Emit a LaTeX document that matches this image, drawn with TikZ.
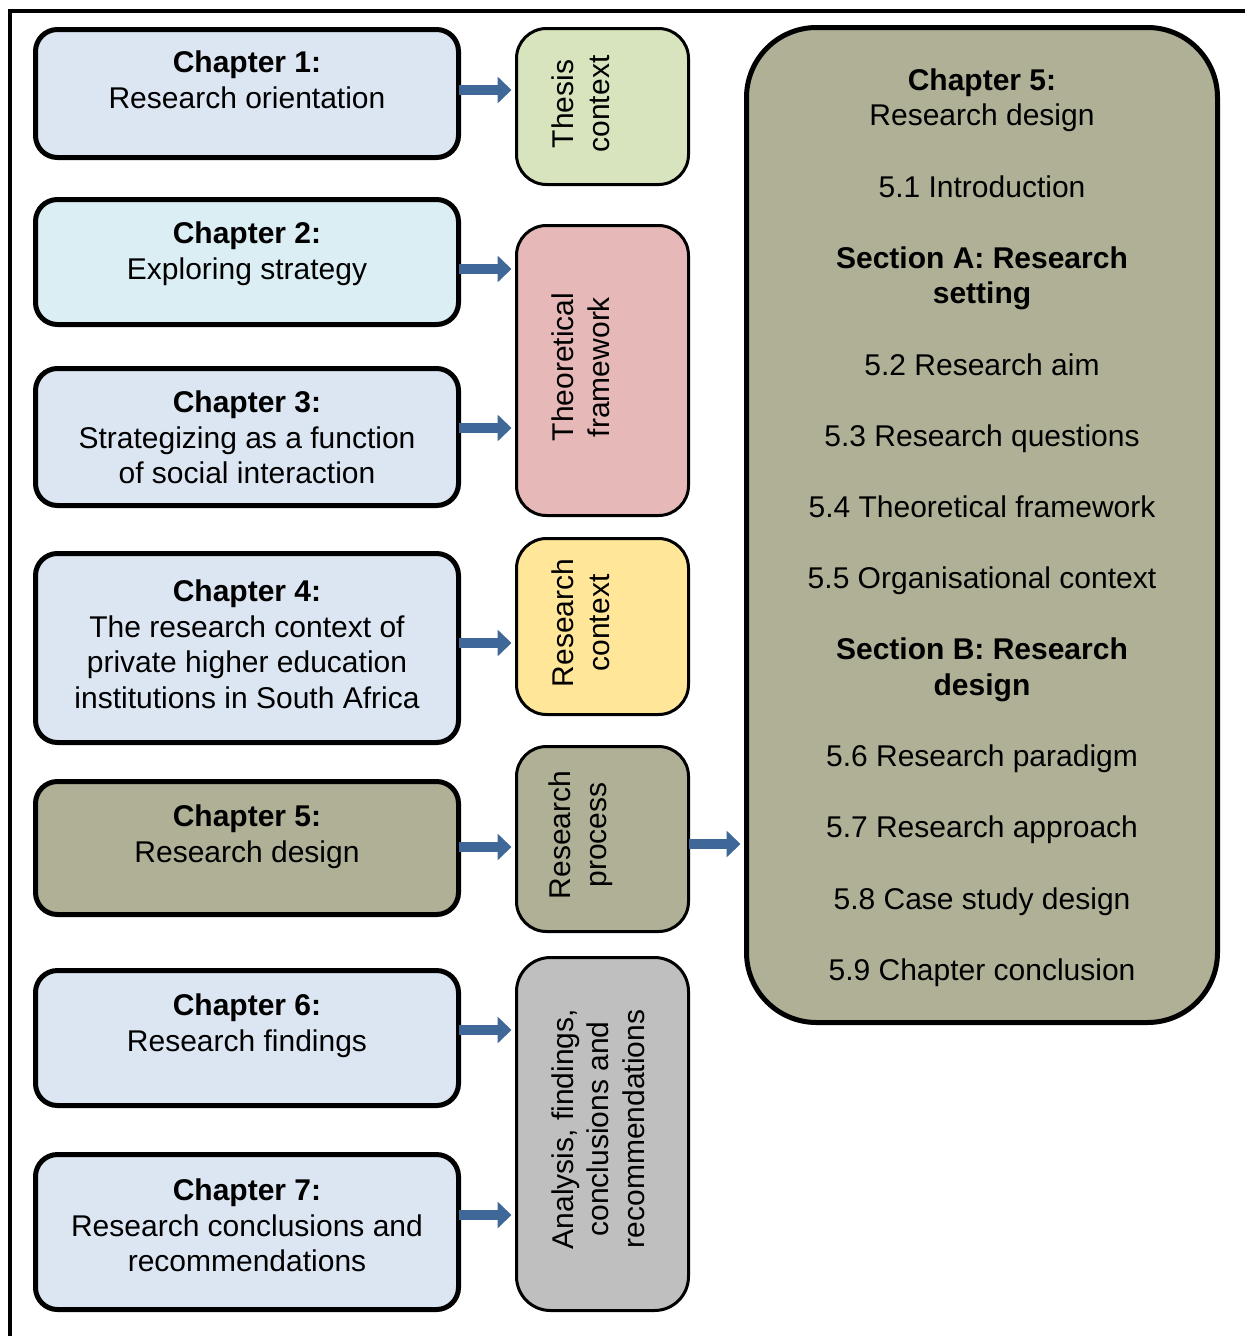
\documentclass[tikz,border=0pt]{standalone}
\usepackage{fontspec}
\setmainfont{Liberation Sans}
\usetikzlibrary{arrows.meta,calc}

\definecolor{chblue}{HTML}{DCE6F2}
\definecolor{chaqua}{HTML}{DBEEF4}
\definecolor{olivebox}{HTML}{AFB096}
\definecolor{thesisgreen}{HTML}{D7E4BD}
\definecolor{theopink}{HTML}{E6B9B8}
\definecolor{ctxyellow}{HTML}{FFE699}
\definecolor{anagray}{HTML}{BFBFBF}
\definecolor{arrowblue}{HTML}{3F6798}

\newcommand{\txt}{\fontsize{30}{35.6}\selectfont}

\begin{document}
\begin{tikzpicture}[x=1pt,y=-1pt,
  chbox/.style={draw=black, line width=5pt, rounded corners=22pt, fill=chblue,
    minimum width=423pt, outer sep=0pt, inner sep=0pt},
  midbox/.style={draw=black, line width=3pt, rounded corners=30pt,
    minimum width=172pt, outer sep=0pt, inner sep=0pt},
  chtext/.style={anchor=north, inner sep=0pt, align=center, font=\txt},
  sidetext/.style={rotate=90, inner sep=0pt, align=center, font=\txt},
  arr/.style={draw=arrowblue, line width=10pt,
    -{Triangle[width=26pt,length=14pt]}, shorten >=5pt}]

\useasboundingbox (0,0) rectangle (1245,1336);
\fill[white] (0,0) rectangle (1245,1336);

% outer frame (top and left edges)
\draw[line width=4pt] (1245,11) -- (10,11) -- (10,1336);

% chapter boxes
\node[chbox, minimum height=128pt] (c1) at (247,93.5) {};
\node[chbox, minimum height=125pt, fill=chaqua] (c2) at (247,262) {};
\node[chbox, minimum height=137pt] (c3) at (247,437) {};
\node[chbox, minimum height=189pt] (c4) at (247,648) {};
\node[chbox, minimum height=133pt, fill=olivebox] (c5) at (247,848) {};
\node[chbox, minimum height=135pt] (c6) at (247,1038) {};
\node[chbox, minimum height=155pt] (c7) at (247,1232) {};

\node[chtext] (t1) at ([yshift=-18pt]c1.north) {\strut\textbf{Chapter 1:}\\Research orientation};
\node[chtext] (t2) at ([yshift=-19pt]c2.north) {\strut\textbf{Chapter 2:}\\Exploring strategy};
\node[chtext] (t3) at ([yshift=-19pt]c3.north) {\strut\textbf{Chapter 3:}\\Strategizing as a function\\of social interaction};
\node[chtext] (t4) at ([yshift=-23pt]c4.north) {\strut\textbf{Chapter 4:}\\The research context of\\private higher education\\institutions in South Africa};
\node[chtext] (t5) at ([yshift=-20pt]c5.north) {\strut\textbf{Chapter 5:}\\Research design};
\node[chtext] (t6) at ([yshift=-20pt]c6.north) {\strut\textbf{Chapter 6:}\\Research findings};
\node[chtext] (t7) at ([yshift=-21pt]c7.north) {\strut\textbf{Chapter 7:}\\Research conclusions and\\recommendations};

% grouping boxes
\node[midbox, minimum height=156pt, fill=thesisgreen] (thesis) at (602.5,106.5) {};
\node[midbox, minimum height=290pt, fill=theopink] (theo) at (602.5,370.5) {};
\node[midbox, minimum height=176pt, fill=ctxyellow] (rctx) at (602.5,626.5) {};
\node[midbox, minimum height=185pt, fill=olivebox] (rproc) at (602.5,839) {};
\node[midbox, minimum height=353pt, fill=anagray, rounded corners=34pt] (ana) at (602.5,1134) {};

\node[sidetext] (s1) at (581,104) {Thesis\\context};
\node[sidetext] (s2) at (581,367) {Theoretical\\framework};
\node[sidetext] (s3) at (581,623) {Research\\context};
\node[sidetext] (s4) at (581,835) {Research\\process};
\node[sidetext] (s5) at (598,1129) {Analysis, findings,\\conclusions and\\recommendations};

% chapter 5 detail box
\node[draw=black, line width=5pt, rounded corners=70pt, fill=olivebox,
  minimum width=471pt, minimum height=995pt, outer sep=0pt, inner sep=0pt] (big) at (982,525) {};
\node[align=center, font=\txt, inner sep=0pt] (bigtext) at ([yshift=-2.5pt]big.center)
  {\textbf{Chapter 5:}\\Research design\\[35.6pt]
   5.1 Introduction\\[35.6pt]
   \textbf{Section A: Research}\\\textbf{setting}\\[35.6pt]
   5.2 Research aim\\[35.6pt]
   5.3 Research questions\\[35.6pt]
   5.4 Theoretical framework\\[35.6pt]
   5.5 Organisational context\\[35.6pt]
   \textbf{Section B: Research}\\\textbf{design}\\[35.6pt]
   5.6 Research paradigm\\[35.6pt]
   5.7 Research approach\\[35.6pt]
   5.8 Case study design\\[35.6pt]
   5.9 Chapter conclusion};

% arrow levels
\coordinate (y1) at (0,90);
\coordinate (y2) at (0,269);
\coordinate (y3) at (0,428);
\coordinate (y4) at (0,643);
\coordinate (y5) at (0,847);
\coordinate (y6) at (0,1030);
\coordinate (y7) at (0,1215);
\coordinate (yb) at (0,844);

\draw[arr] (c1.east |- y1) -- (thesis.west |- y1);
\draw[arr] (c2.east |- y2) -- (theo.west |- y2);
\draw[arr] (c3.east |- y3) -- (theo.west |- y3);
\draw[arr] (c4.east |- y4) -- (rctx.west |- y4);
\draw[arr] (c5.east |- y5) -- (rproc.west |- y5);
\draw[arr] (c6.east |- y6) -- (ana.west |- y6);
\draw[arr] (c7.east |- y7) -- (ana.west |- y7);
\draw[arr, shorten >=6pt] (rproc.east |- yb) -- (big.west |- yb);

\end{tikzpicture}
\end{document}
